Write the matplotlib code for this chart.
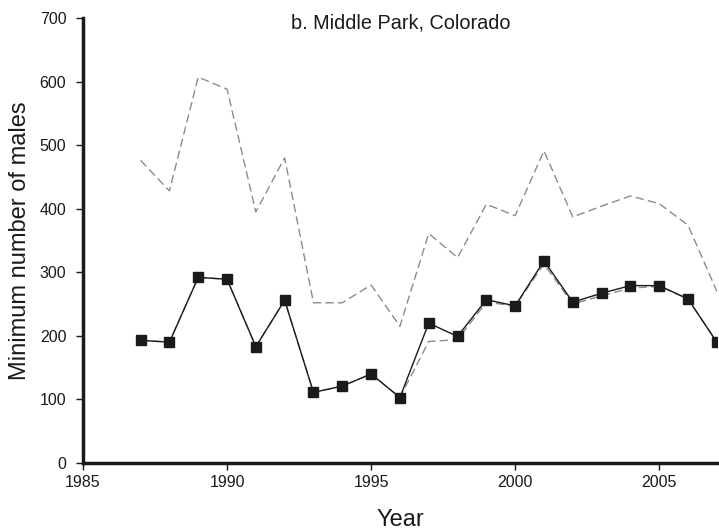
import matplotlib
matplotlib.use("Agg")
import matplotlib.pyplot as plt

plt.rcParams['font.family'] = ['Liberation Sans', 'DejaVu Sans']

years = list(range(1987, 2008))
min_males = [193, 190, 292, 289, 183, 256, 111, 121, 140, 103, 220,
             199, 257, 247, 318, 253, 267, 279, 279, 258, 190]
upper_est = [476, 428, 607, 588, 395, 480, 252, 252, 280, 215, 361,
             323, 407, 389, 491, 387, 404, 420, 408, 374, 270]
lower_est = [193, 190, 292, 289, 183, 256, 111, 121, 140, 103, 191,
             194, 253, 247, 313, 250, 263, 275, 278, 258, 190]

x_ticks = [1985, 1990, 1995, 2000, 2005]
y_ticks = [0, 100, 200, 300, 400, 500, 600, 700]

fig = plt.figure(figsize=(7.19, 5.29), dpi=100)
ax = fig.add_axes([0.1154, 0.1248, 0.8816, 0.8412])

ax.plot(years, upper_est, color='#8c8c8c', lw=1.0, ls=(0, (6, 3)))
ax.plot(years, lower_est, color='#8c8c8c', lw=1.0, ls=(0, (6, 3)))
ax.plot(years, min_males, color='#1a1a1a', lw=1.0, marker='s',
        markersize=7.5, markerfacecolor='#1a1a1a', markeredgecolor='#1a1a1a')

ax.set_xlim(1985, 2007)
ax.set_ylim(0, 700)
ax.set_xticks(x_ticks)
ax.set_yticks(y_ticks)

for s in ['top', 'right']:
    ax.spines[s].set_visible(False)
for s in ['left', 'bottom']:
    ax.spines[s].set_linewidth(2.5)
    ax.spines[s].set_color('#1a1a1a')

ax.tick_params(axis='both', direction='out', length=5, width=1.0,
               colors='#1a1a1a', labelsize=11.5)
ax.tick_params(axis='y', pad=7)
ax.tick_params(axis='x', pad=4)

ax.set_xlabel('Year', fontsize=17, color='#1a1a1a', labelpad=13)
ax.set_ylabel('Minimum number of males', fontsize=17, color='#1a1a1a', labelpad=6)

fig.text(401 / 719, 1 - 23 / 529, 'b. Middle Park, Colorado',
         ha='center', va='center', fontsize=14.3, color='#1a1a1a')

fig.savefig('out.png', dpi=100)
